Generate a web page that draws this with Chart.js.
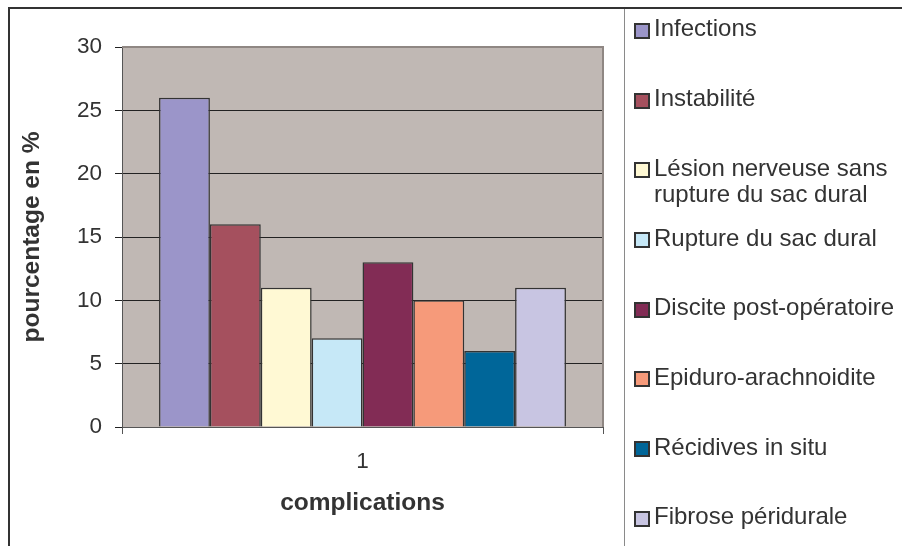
<!DOCTYPE html>
<html>
<head>
<meta charset="utf-8">
<script src="https://cdn.jsdelivr.net/npm/chart.js@4.4.0/dist/chart.umd.min.js"></script>
<style>
  body { margin: 0; background: #fff; }
  #wrap { position: relative; width: 902px; height: 546px; overflow: hidden; }
  #chart { position: absolute; left: 0; top: 0; }
  #frame { position: absolute; left: 8px; top: 7px; width: 920px; height: 600px; border-top: 2px solid #333; border-left: 2px solid #333; }
  #sep { position: absolute; left: 624px; top: 9px; width: 1px; height: 540px; background: #8a8a8a; }
  #legend { position: absolute; left: 634px; top: 0; font-family: 'Liberation Sans', Arial, sans-serif; font-size: 24px; color: #333; }
  .item { position: absolute; left: 0; display: flex; white-space: pre; line-height: 26.5px; }
  .box { flex: none; width: 12px; height: 12px; border: 2px solid #333; margin-top: 7.6px; margin-right: 4px; }
</style>
</head>
<body>
<div id="wrap">
  <canvas id="chart" width="902" height="546"></canvas>
  <div id="frame"></div>
  <div id="sep"></div>
  <div id="legend"></div>
</div>
<script>
const categories = ['1'];
const seriesNames = [
    'Infections',
    'Instabilité',
    'Lésion nerveuse sans\nrupture du sac dural',
    'Rupture du sac dural',
    'Discite post-opératoire',
    'Epiduro-arachnoidite',
    'Récidives in situ',
    'Fibrose péridurale'
];
const seriesValues = [26, 16, 11, 7, 13, 10, 6, 11];
const seriesColors = ['#9b95c9', '#a5505e', '#fff9d4', '#c6e8f7', '#822c55', '#f69a7a', '#006699', '#c8c5e2'];
const yTicks = [0, 5, 10, 15, 20, 25, 30];

const FONT = "'Liberation Sans', Arial, sans-serif";

// plot background and the grey frame on top / right of the plot
const plotFrame = {
    id: 'plotFrame',
    beforeDraw(chart) {
        const { ctx, chartArea: a } = chart;
        ctx.save();
        ctx.fillStyle = '#c0b8b4';
        ctx.fillRect(a.left, a.top, a.right - a.left, a.bottom - a.top);
        ctx.restore();
    },
    afterDraw(chart) {
        const { ctx, chartArea: a } = chart;
        ctx.save();
        ctx.strokeStyle = '#8f8783';
        ctx.lineWidth = 2;
        ctx.beginPath();
        ctx.moveTo(a.left, a.top);
        ctx.lineTo(a.right, a.top);
        ctx.lineTo(a.right, a.bottom);
        ctx.stroke();
        ctx.restore();
    }
};

const datasets = seriesNames.map((name, i) => ({
    label: name.replace('\n', ' '),
    data: [seriesValues[i]],
    backgroundColor: seriesColors[i],
    borderColor: '#333',
    borderWidth: 1.5,
    categoryPercentage: 0.846,
    barPercentage: 1
}));

new Chart(document.getElementById('chart'), {
    type: 'bar',
    data: { labels: categories, datasets: datasets },
    options: {
        responsive: false,
        animation: false,
        layout: { padding: { left: 12, top: 47, right: 299, bottom: 0 } },
        plugins: { legend: { display: false }, tooltip: { enabled: false } },
        scales: {
            x: {
                offset: true,
                grid: { offset: true, drawOnChartArea: false, tickLength: 7, color: '#555' },
                border: { display: true, color: '#555', width: 1 },
                ticks: { color: '#333', padding: 14, font: { family: FONT, size: 22.5 } },
                title: {
                    display: true, text: 'complications', color: '#333',
                    font: { family: FONT, size: 24.5, weight: 'bold' },
                    padding: { top: 0, bottom: 28 }
                },
                afterFit(scale) { scale.height = 119; }
            },
            y: {
                min: 0, max: 30,
                afterBuildTicks(scale) { scale.ticks = yTicks.map(v => ({ value: v })); },
                grid: { color: '#222', tickLength: 7, lineWidth: 1 },
                border: { display: true, color: '#555', width: 1 },
                ticks: { color: '#333', padding: 13, font: { family: FONT, size: 22.5 } },
                title: {
                    display: true, text: 'pourcentage en %', color: '#333',
                    font: { family: FONT, size: 24.5, weight: 'bold' },
                    padding: { top: 6, bottom: 0 }
                },
                afterFit(scale) { scale.width = 110; }
            }
        }
    },
    plugins: [plotFrame]
});

// legend drawn as html next to the chart
const legend = document.getElementById('legend');
seriesNames.forEach((name, i) => {
    const item = document.createElement('div');
    item.className = 'item';
    item.style.top = (15.4 + i * 69.7) + 'px';
    const box = document.createElement('div');
    box.className = 'box';
    box.style.background = seriesColors[i];
    const txt = document.createElement('span');
    txt.textContent = name;
    item.appendChild(box);
    item.appendChild(txt);
    legend.appendChild(item);
});
</script>
</body>
</html>
